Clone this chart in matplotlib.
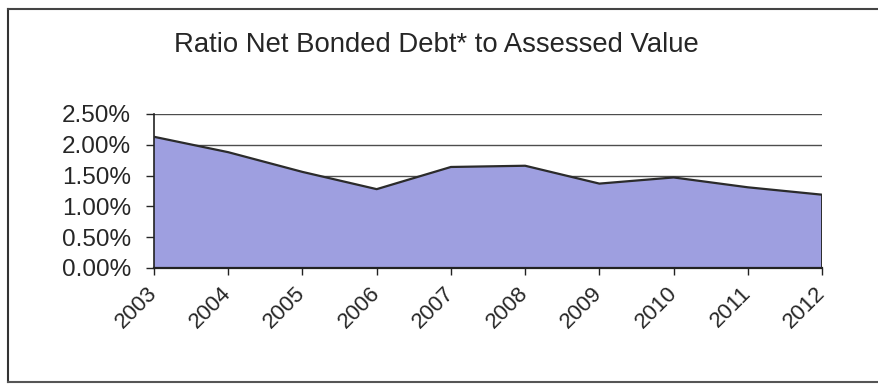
import matplotlib
matplotlib.use("Agg")
import matplotlib.pyplot as plt
from matplotlib.lines import Line2D
from matplotlib.ticker import FuncFormatter

years = [2003, 2004, 2005, 2006, 2007, 2008, 2009, 2010, 2011, 2012]
ratio_pct = [2.13, 1.88, 1.56, 1.28, 1.64, 1.66, 1.37, 1.47, 1.31, 1.19]
y_ticks = [0.0, 0.5, 1.0, 1.5, 2.0, 2.5]
title = "Ratio Net Bonded Debt* to Assessed Value"

plt.rcParams["font.family"] = ["Liberation Sans", "DejaVu Sans"]
text_color = "#262626"
fill_color = "#9e9fe0"

fig = plt.figure(figsize=(8.79, 3.85), dpi=100)
fig.patch.set_facecolor("white")

ax = fig.add_axes([0.1752, 0.3039, 0.7600, 0.4000])
ax.set_facecolor("white")

# gridlines sit beneath the filled area
for v in y_ticks[1:]:
    ax.axhline(v, color="#4d4d4d", linewidth=1.0, zorder=1)

ax.fill_between(years, ratio_pct, 0, facecolor=fill_color, edgecolor="none", zorder=2)
ax.plot(years, ratio_pct, color="#2b2b2b", linewidth=1.6, zorder=3)
ax.plot([years[-1], years[-1]], [0, ratio_pct[-1]], color="#2b2b2b", linewidth=1.4, zorder=3)

ax.set_xlim(years[0], years[-1])
ax.set_ylim(0, 2.5)
ax.set_xticks(years)
ax.set_xticklabels([str(y) for y in years], rotation=45, ha="right", va="center",
                   rotation_mode="anchor", fontsize=16, color=text_color)
ax.set_yticks(y_ticks)
ax.yaxis.set_major_formatter(FuncFormatter(lambda v, _: f"{v:.2f}%"))
ax.tick_params(axis="y", labelsize=17.5, colors=text_color, length=5.5, width=1, pad=11)
ax.tick_params(axis="x", length=5, width=1, pad=11, colors="#222222")
for lab in ax.get_xticklabels():
    lab.set_color(text_color)

for side in ("top", "right"):
    ax.spines[side].set_visible(False)
ax.spines["left"].set_color("#222222")
ax.spines["bottom"].set_color("#222222")
ax.spines["left"].set_linewidth(1.2)
ax.spines["bottom"].set_linewidth(1.6)

fig.text(0.496, 0.883, title, ha="center", va="center", fontsize=19.8, color=text_color)

# chart border
W, H = 879, 385
fig.add_artist(Line2D([8 / W, 8 / W], [1 - 9 / H, 1 - 382 / H], color="#333333", linewidth=1.5))
fig.add_artist(Line2D([8 / W, 1.0], [1 - 9 / H, 1 - 9 / H], color="#444444", linewidth=1.5))
fig.add_artist(Line2D([8 / W, 1.0], [1 - 382 / H, 1 - 382 / H], color="#555555", linewidth=1.5))

fig.savefig("out.png", dpi=100, facecolor="white")
